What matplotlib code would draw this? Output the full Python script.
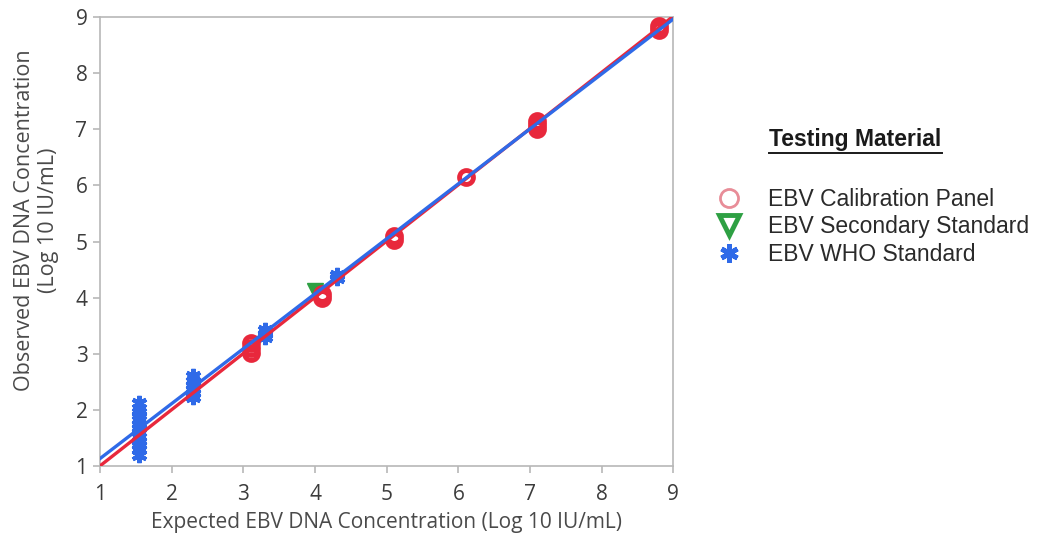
import matplotlib
matplotlib.use("Agg")
import matplotlib.pyplot as plt
from matplotlib.lines import Line2D

# Observed vs expected EBV DNA concentration

# EBV WHO Standard (blue asterisks)
who_x = [1.55] * 12 + [2.3] * 6 + [3.3] * 3 + [4.3] * 2
who_y = [1.2, 1.3, 1.38, 1.45, 1.52, 1.6, 1.68, 1.75, 1.82, 1.9, 1.97, 2.12,
         2.22, 2.3, 2.38, 2.45, 2.52, 2.6,
         3.3, 3.36, 3.42,
         4.35, 4.4]

# EBV Calibration Panel (red circles)
cal_x = [3.1, 3.1, 3.1, 4.1, 4.1, 5.1, 5.1, 6.1, 7.1, 7.1, 7.1, 8.8, 8.8]
cal_y = [3.02, 3.1, 3.2, 4.0, 4.07, 5.03, 5.1, 6.15, 7.0, 7.08, 7.15, 8.78, 8.85]

# EBV Secondary Standard (green triangle)
sec_x = [4.0]
sec_y = [4.12]

# fitted lines (end points)
fit_x = [1, 9]
red_fit_y = [1.0, 9.02]
blue_fit_y = [1.13, 8.97]

ticks = [1, 2, 3, 4, 5, 6, 7, 8, 9]

RED = '#e8283c'
BLUE = '#2f6ae8'
GREEN = '#2ea043'
GREY = '#b8b8b8'

fig = plt.figure(figsize=(10.37, 5.38), dpi=100)
ax = fig.add_axes([0.0964, 0.134, 0.553, 0.834])

ax.plot(who_x, who_y, linestyle='none', marker=(6, 2, 0), markersize=11,
        markeredgewidth=3, color=BLUE, zorder=3)
ax.plot(cal_x, cal_y, linestyle='none', marker='o', markersize=10,
        markerfacecolor='none', markeredgewidth=3.5, color=RED, zorder=3)
ax.plot(sec_x, sec_y, linestyle='none', marker='v', markersize=11,
        color=GREEN, zorder=2)

ax.plot(fit_x, red_fit_y, color=RED, linewidth=2.4, zorder=4)
ax.plot(fit_x, blue_fit_y, color=BLUE, linewidth=2.4, zorder=5)

ax.set_xlim(1, 9)
ax.set_ylim(1, 9)
ax.set_xticks(ticks)
ax.set_yticks(ticks)
for s in ax.spines.values():
    s.set_color(GREY)
    s.set_linewidth(1.2)
ax.tick_params(colors=GREY, labelcolor='#3c3c3c', length=5, width=1.2,
               labelsize=15)
ax.tick_params(axis='x', pad=8)
ax.tick_params(axis='y', pad=4)
for lbl in ax.get_xticklabels() + ax.get_yticklabels():
    lbl.set_family('Open Sans')

ax.set_xlabel('Expected EBV DNA Concentration (Log 10 IU/mL)', fontsize=15,
              color='#4a4a4a', family='Open Sans', labelpad=5)
ax.set_ylabel('Observed EBV DNA Concentration\n(Log 10 IU/mL)', fontsize=15.5,
              color='#4a4a4a', family='Open Sans', linespacing=1.15)
ax.yaxis.set_label_coords(-0.072, 0.548)

# legend block on the right
title = fig.text(0.742, 0.728, 'Testing Material', fontsize=16.5,
                 fontweight='bold', family='Liberation Sans', color='#1a1a1a')
fig.canvas.draw()
bb = title.get_window_extent().transformed(fig.transFigure.inverted())
fig.add_artist(Line2D([bb.x0, bb.x1], [bb.y0 - 0.004, bb.y0 - 0.004],
                      color='#1a1a1a', linewidth=1.4, transform=fig.transFigure))

handles = [
    Line2D([], [], linestyle='none', marker='o', markersize=13,
           markerfacecolor='none', markeredgecolor='#e88d98', markeredgewidth=2),
    Line2D([], [], linestyle='none', marker='v', markersize=15,
           markerfacecolor='none', markeredgecolor=GREEN, markeredgewidth=3.5),
    Line2D([], [], linestyle='none', marker=(6, 2, 0), markersize=13,
           markeredgewidth=3.5, color=BLUE),
]
labels = ['EBV Calibration Panel', 'EBV Secondary Standard', 'EBV WHO Standard']
fig.legend(handles, labels, loc='upper left', bbox_to_anchor=(0.683, 0.668),
           frameon=False, prop={'family': 'Liberation Sans', 'size': 16.5},
           labelcolor='#2a2a2a', handletextpad=1.2, labelspacing=0.2,
           handlelength=1.0, borderaxespad=0)

fig.savefig('out.png', dpi=100)
